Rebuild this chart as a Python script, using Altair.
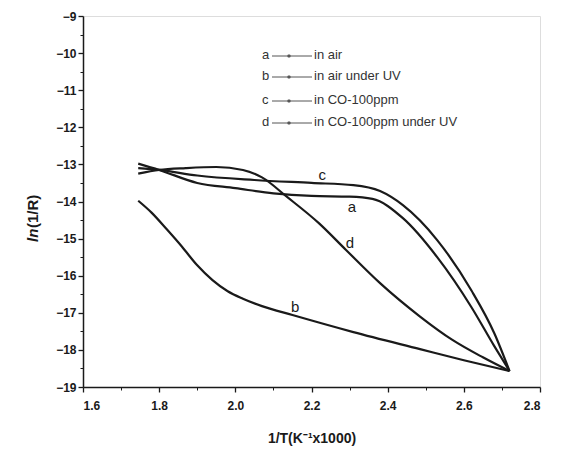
import altair as alt
import pandas as pd

# ---- data ----
a_x = [1.745, 1.80, 1.90, 2.00, 2.10, 2.20, 2.30, 2.36, 2.44, 2.53, 2.62, 2.68, 2.72]
a_y = [-12.98, -13.15, -13.50, -13.64, -13.78, -13.85, -13.87, -13.93, -14.45, -15.50, -16.85, -17.90, -18.57]

b_x = [1.745, 1.78, 1.82, 1.86, 1.90, 1.94, 1.98, 2.02, 2.07, 2.15, 2.31, 2.485, 2.60, 2.72]
b_y = [-13.98, -14.30, -14.75, -15.22, -15.72, -16.12, -16.42, -16.62, -16.82, -17.06, -17.52, -17.98, -18.28, -18.57]

c_x = [1.745, 1.80, 1.90, 2.05, 2.20, 2.31, 2.38, 2.44, 2.53, 2.62, 2.68, 2.72]
c_y = [-13.10, -13.15, -13.30, -13.42, -13.50, -13.56, -13.72, -14.10, -15.04, -16.40, -17.55, -18.57]

d_x = [1.745, 1.80, 1.87, 1.95, 2.02, 2.07, 2.135, 2.22, 2.29, 2.38, 2.485, 2.57, 2.65, 2.72]
d_y = [-13.25, -13.15, -13.10, -13.07, -13.15, -13.35, -13.87, -14.59, -15.30, -16.20, -17.10, -17.73, -18.20, -18.57]

series_names = ["a", "b", "c", "d"]
legend_labels = ["in air", "in air under UV", "in CO-100ppm", "in CO-100ppm under UV"]

label_x = [2.306, 2.157, 2.228, 2.301]
label_y = [-14.15, -16.84, -13.29, -15.12]

x_major = [1.6, 1.8, 2.0, 2.2, 2.4, 2.6, 2.8]
x_minor = [1.7, 1.9, 2.1, 2.3, 2.5, 2.7]
y_major = [-19, -18, -17, -16, -15, -14, -13, -12, -11, -10, -9]
y_minor = [-18.5, -17.5, -16.5, -15.5, -14.5, -13.5, -12.5, -11.5, -10.5, -9.5]

rows = []
for name, xs_, ys_ in zip(series_names, [a_x, b_x, c_x, d_x], [a_y, b_y, c_y, d_y]):
    for xv, yv in zip(xs_, ys_):
        rows.append({"series": name, "x": xv, "y": yv})
df = pd.DataFrame(rows)
lab_df = pd.DataFrame({"t": series_names, "x": label_x, "y": label_y})

FONT = "Liberation Sans"
INK = "#1a1a1a"

xs = alt.Scale(domain=[1.6, 2.8], nice=False, zero=False)
ys = alt.Scale(domain=[-19, -9], nice=False, zero=False)

lines = alt.Chart(df).mark_line(interpolate="monotone", color=INK, strokeWidth=2.2).encode(
    x=alt.X("x:Q", scale=xs, axis=alt.Axis(
        values=x_major, format=".1f", orient="bottom",
        title="1/T(K\u207b\u00b9x1000)", titleFont=FONT, titleFontSize=14, titleFontWeight="bold",
        titleColor=INK, titlePadding=20,
        labelFont=FONT, labelFontSize=12, labelFontWeight="bold", labelColor=INK, labelPadding=8,
        tickSize=5, tickColor=INK, tickWidth=1.3, domainColor=INK, domainWidth=1.5, grid=False)),
    y=alt.Y("y:Q", scale=ys, axis=alt.Axis(
        values=y_major, format="d", orient="left", title=None,
        labelFont=FONT, labelFontSize=12, labelFontWeight="bold", labelColor=INK, labelPadding=2,
        tickSize=5, tickColor=INK, tickWidth=1.3, domainColor=INK, domainWidth=1.5, grid=False)),
    detail="series:N",
)

labels = alt.Chart(lab_df).mark_text(font=FONT, fontSize=15, color=INK, baseline="middle").encode(
    x=alt.X("x:Q", scale=xs, axis=alt.Axis(values=x_minor, labels=False, title=None, orient="bottom",
                                          tickSize=3, tickColor=INK, domain=False, grid=False)),
    y=alt.Y("y:Q", scale=ys, axis=alt.Axis(values=y_minor, labels=False, title=None, orient="left",
                                          tickSize=3, tickColor=INK, domain=False, grid=False)),
    text="t:N",
)

layers = [lines, labels]

# legend (drawn inside the plot area)
row_y = [39, 60, 84, 106]
one = pd.DataFrame({"k": [0]})
for i, (nm, lb) in enumerate(zip(series_names, legend_labels)):
    yy = row_y[i]
    layers.append(alt.Chart(one).mark_text(font=FONT, fontSize=13, color="#333", align="left", baseline="middle")
                  .encode(x=alt.value(179), y=alt.value(yy), text=alt.value(nm)))
    layers.append(alt.Chart(one).mark_rule(color="#555", strokeWidth=1)
                  .encode(x=alt.value(189), x2=alt.value(229), y=alt.value(yy + 1)))
    layers.append(alt.Chart(one).mark_point(filled=True, color="#333", size=12)
                  .encode(x=alt.value(206), y=alt.value(yy + 1)))
    layers.append(alt.Chart(one).mark_text(font=FONT, fontSize=13, color="#333", align="left", baseline="middle")
                  .encode(x=alt.value(231), y=alt.value(yy), text=alt.value(lb)))

# y-axis title with italic "ln"
layers.append(alt.Chart(one).mark_text(font=FONT, fontSize=15, fontWeight="bold", fontStyle="italic",
                                       color=INK, angle=270, align="left", baseline="middle")
              .encode(x=alt.value(-50), y=alt.value(226), text=alt.value("ln")))
layers.append(alt.Chart(one).mark_text(font=FONT, fontSize=15, fontWeight="bold",
                                       color=INK, angle=270, align="left", baseline="middle")
              .encode(x=alt.value(-50), y=alt.value(212), text=alt.value("(1/R)")))

chart = alt.layer(*layers).resolve_axis(x="independent", y="independent").properties(
    width=457, height=371,
    autosize=alt.AutoSizeParams(type="none"),
    padding={"left": 75, "top": 8, "right": 14, "bottom": 70},
).configure_view(stroke=INK, strokeWidth=1.5).configure(background="white")

chart.save("out.html", embed_options={"renderer": "svg", "actions": False})
